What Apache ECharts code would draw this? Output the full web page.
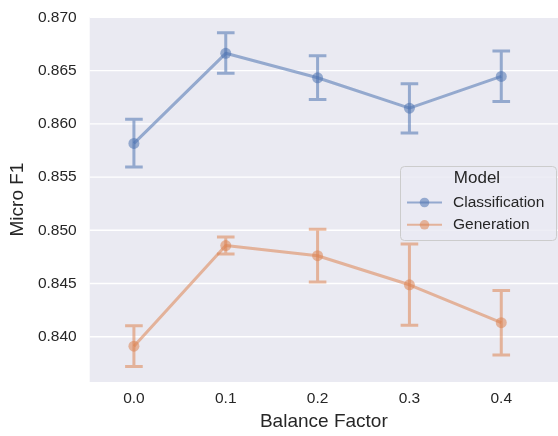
<!DOCTYPE html>
<html>
<head>
<meta charset="utf-8">
<script src="https://cdn.jsdelivr.net/npm/echarts@6/dist/echarts.min.js"></script>
<style>
html,body{margin:0;padding:0;background:#fff;}
#chart{width:558px;height:436px;}
</style>
</head>
<body>
<div id="chart"></div>
<script>
// ---- data ----
const categories = ['0.0', '0.1', '0.2', '0.3', '0.4'];
const yTicks = [0.840, 0.845, 0.850, 0.855, 0.860, 0.865, 0.870];
const seriesNames = ['Classification', 'Generation'];
const classMean = [0.85816, 0.86662, 0.86432, 0.86147, 0.86445];
const classLow  = [0.85595, 0.86475, 0.86227, 0.85914, 0.86209];
const classHigh = [0.86043, 0.86856, 0.86638, 0.86377, 0.86684];
const genMean = [0.83911, 0.84856, 0.84761, 0.84488, 0.84132];
const genLow  = [0.83721, 0.84776, 0.84513, 0.84108, 0.83828];
const genHigh = [0.84104, 0.84936, 0.85010, 0.84872, 0.84435];

const FONT = "'Liberation Sans', Arial, sans-serif";
const TXT = '#262626';
const blue = 'rgba(76,114,176,0.55)';
const orange = 'rgba(221,132,82,0.55)';

const chart = echarts.init(document.getElementById('chart'), null, {renderer: 'canvas'});

function errSeries(name, low, high, color) {
  return {
    type: 'custom',
    name: name + ' CI',
    z: 4,
    silent: true,
    data: categories.map((c, i) => [i, low[i], high[i]]),
    encode: {x: 0, y: [1, 2]},
    renderItem: function (params, api) {
      const x = api.value(0);
      const lo = api.coord([x, api.value(1)]);
      const hi = api.coord([x, api.value(2)]);
      const h = 8.8;
      return {
        type: 'path',
        shape: {
          pathData: 'M' + (hi[0] - h) + ' ' + hi[1] + ' L' + (hi[0] + h) + ' ' + hi[1] +
                    ' M' + hi[0] + ' ' + hi[1] + ' L' + lo[0] + ' ' + lo[1] +
                    ' M' + (lo[0] - h) + ' ' + lo[1] + ' L' + (lo[0] + h) + ' ' + lo[1]
        },
        style: {stroke: color, lineWidth: 3, fill: null}
      };
    }
  };
}

function lineSeries(name, mean, color) {
  return {
    type: 'line',
    name: name,
    z: 5,
    data: mean.map((v, i) => [i, v]),
    symbol: 'circle',
    symbolSize: 11,
    showSymbol: true,
    lineStyle: {color: color, width: 3},
    itemStyle: {color: color, borderWidth: 0},
    emphasis: {disabled: true}
  };
}

const option = {
  animation: false,
  backgroundColor: '#ffffff',
  textStyle: {fontFamily: FONT},
  grid: {
    left: 86, top: 17, right: -15, bottom: 47,
    show: true, backgroundColor: '#EAEAF2', borderWidth: 0
  },
  xAxis: {
    type: 'value',
    min: -0.4817, max: 4.6178,
    name: 'Balance Factor',
    nameLocation: 'middle',
    nameGap: 29,
    nameTextStyle: {fontSize: 19, color: TXT, fontFamily: FONT},
    axisLine: {show: false},
    axisTick: {show: false},
    splitLine: {show: false},
    axisLabel: {
      customValues: categories.map((c, i) => i),
      formatter: v => categories[Math.round(v)],
      fontSize: 15.5, color: TXT, fontFamily: FONT, margin: 9
    }
  },
  yAxis: {
    type: 'value',
    min: 0.83574, max: 0.87003,
    name: 'Micro F1',
    nameLocation: 'middle',
    nameGap: 61,
    nameTextStyle: {fontSize: 19, color: TXT, fontFamily: FONT},
    axisLine: {show: false},
    axisTick: {show: false},
    splitLine: {show: false},
    axisLabel: {
      customValues: yTicks,
      formatter: v => v.toFixed(3),
      fontSize: 15.5, color: TXT, fontFamily: FONT, margin: 13
    }
  },
  legend: {
    data: seriesNames,
    orient: 'vertical',
    left: 406,
    top: 193.5,
    itemWidth: 35,
    itemHeight: 12,
    itemGap: 4.3,
    padding: 0,
    selectedMode: false,
    textStyle: {fontSize: 15.5, color: TXT, fontFamily: FONT, lineHeight: 18, padding: [0, 0, 0, 6]},
    z: 20
  },
  graphic: [
    {
      type: 'rect', z: 15,
      shape: {x: 400.5, y: 166.5, width: 156, height: 74, r: 4},
      style: {fill: 'rgba(234,234,242,0.8)', stroke: '#CCCCCC', lineWidth: 1}
    },
    {
      type: 'text', z: 16,
      style: {x: 477, y: 178.5, text: 'Model', fontSize: 17, fontFamily: FONT, fill: TXT,
               textAlign: 'center', textVerticalAlign: 'middle'}
    }
  ],
  series: [
    {
      type: 'custom', name: 'gridlines', z: 1, silent: true,
      data: yTicks.map(v => [0, v]),
      encode: {y: 1},
      renderItem: function (params, api) {
        const cs = params.coordSys;
        const y = api.coord([0, api.value(1)])[1];
        return {
          type: 'line',
          shape: {x1: cs.x, y1: y, x2: cs.x + cs.width, y2: y},
          style: {stroke: '#ffffff', lineWidth: 1.3}
        };
      }
    },
    errSeries('Classification', classLow, classHigh, blue),
    errSeries('Generation', genLow, genHigh, orange),
    lineSeries('Classification', classMean, blue),
    lineSeries('Generation', genMean, orange)
  ]
};
chart.setOption(option);
</script>
</body>
</html>
